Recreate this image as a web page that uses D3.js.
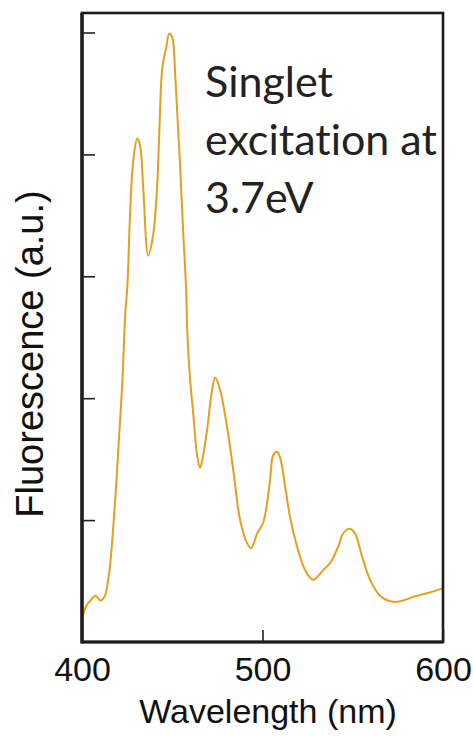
<!DOCTYPE html>
<html>
<head>
<meta charset="utf-8">
<script src="https://cdnjs.cloudflare.com/ajax/libs/d3/7.8.5/d3.min.js"></script>
<style>
  body { margin:0; background:#fff; }
  .axis text { font-family:"Liberation Sans", Arial, sans-serif; font-size:34px; fill:#111; }
  .axis line { stroke:#222; stroke-width:1.6; }
  .axis path { display:none; }
</style>
</head>
<body>
<script>
// spectrum
var wavelength = [400.0,402.5,404.7,407.4,410.2,412.4,414.6,415.7,418.5,420.2,422.4,424.0,425.1,426.8,428.4,430.6,432.3,433.9,436.7,439.5,441.7,442.8,444.5,446.7,448.3,450.0,451.6,452.7,454.4,456.1,457.7,458.3,459.9,461.6,463.8,465.4,467.1,469.3,472.1,473.8,476.5,480.4,483.8,487.6,491.5,493.7,497.0,500.4,504.2,505.9,508.1,509.8,512.6,515.3,519.2,523.6,528.1,533.6,537.5,541.9,544.7,548.5,551.3,555.2,559.6,565.1,572.3,577.8,583.4,591.1,600.0];
var fluorescence = [0.20,0.30,0.34,0.38,0.34,0.37,0.52,0.65,1.19,1.60,2.15,2.70,2.91,3.57,3.95,4.13,4.06,3.73,3.17,3.35,3.76,4.17,4.71,4.88,4.99,4.96,4.66,4.36,3.89,3.35,2.89,2.56,2.15,1.88,1.53,1.43,1.53,1.74,2.07,2.17,2.07,1.76,1.41,1.00,0.81,0.77,0.89,0.98,1.33,1.53,1.56,1.51,1.27,1.02,0.78,0.59,0.51,0.59,0.65,0.78,0.89,0.93,0.89,0.70,0.51,0.38,0.33,0.34,0.37,0.40,0.44];
var xTicks = [400,500,600];
var yTicks = [1,2,3,4,5];
var xLabel = "Wavelength (nm)";
var yLabel = "Fluorescence (a.u.)";
var note = ["Singlet","excitation at","3.7eV"];

var data = wavelength.map(function(d,i){ return {wl:d, f:fluorescence[i]}; });

var svg = d3.select('body').append('svg')
            .attr('width',473)
            .attr('height',736);

var plotLeft = 82, plotRight = 443, plotTop = 13, plotBottom = 642;

var x = d3.scaleLinear().domain([400,600]).range([plotLeft,plotRight]);
var y = d3.scaleLinear().domain([0,5.16]).range([plotBottom,plotTop]);

var line = d3.line()
             .curve(d3.curveCatmullRom.alpha(0.5))
             .x(function(d){return x(d.wl);})
             .y(function(d){return y(d.f);});

svg.append('path')
   .attr('d',line(data))
   .style('fill','none')
   .style('stroke','#e2a01c')
   .style('stroke-width',2)
   .style('stroke-linejoin','round');

// frame
svg.append('rect')
   .attr('x',plotLeft).attr('y',plotTop)
   .attr('width',plotRight-plotLeft).attr('height',plotBottom-plotTop)
   .style('fill','none').style('stroke','#1c1c1c').style('stroke-width',2.6);
svg.append('line').attr('x1',plotLeft).attr('x2',plotLeft).attr('y1',plotTop).attr('y2',plotBottom+1.5)
   .style('stroke','#1c1c1c').style('stroke-width',3.4);
svg.append('line').attr('x1',plotLeft).attr('x2',plotRight).attr('y1',plotBottom).attr('y2',plotBottom)
   .style('stroke','#1c1c1c').style('stroke-width',3.2);

svg.append('g').attr('class','axis')
   .attr('transform','translate(0,'+plotBottom+')')
   .call(d3.axisBottom(x).tickValues(xTicks).tickSize(-12).tickPadding(15).tickFormat(d3.format('d')));

svg.append('g').attr('class','axis')
   .attr('transform','translate('+plotLeft+',0)')
   .call(d3.axisLeft(y).tickValues(yTicks).tickSize(-13).tickFormat(''));

svg.append('text')
   .attr('x',268).attr('y',723)
   .attr('text-anchor','middle')
   .style('font-family','"Liberation Sans", Arial, sans-serif')
   .style('font-size','34px').style('fill','#111')
   .text(xLabel);

svg.append('text')
   .attr('transform','translate(43,354) rotate(-90)')
   .attr('text-anchor','middle')
   .style('font-family','"Liberation Sans", Arial, sans-serif')
   .style('font-size','38px').style('fill','#111')
   .text(yLabel);

svg.append('g').selectAll('text')
   .data(note).enter().append('text')
   .attr('x',205)
   .attr('y',function(d,i){return 97+i*58;})
   .style('font-family','Lato, "Open Sans", sans-serif')
   .style('font-size','43px').style('fill','#222')
   .style('font-variant-ligatures','none')
   .text(function(d){return d;});
</script>
</body>
</html>
